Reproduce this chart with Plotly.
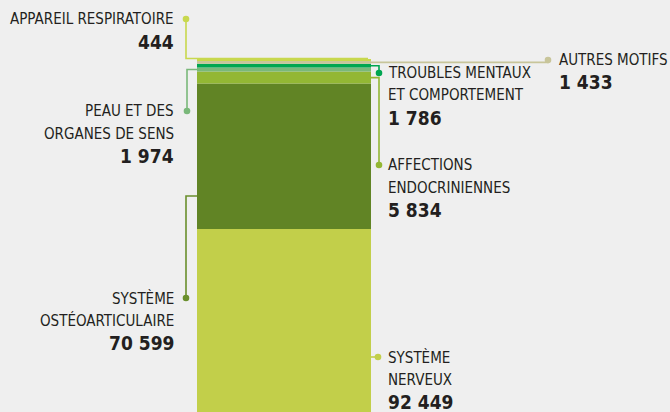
import plotly.graph_objects as go

# ---- data ----
categories = ["SYSTÈME NERVEUX", "SYSTÈME OSTÉOARTICULAIRE", "AFFECTIONS ENDOCRINIENNES",
              "PEAU ET DES ORGANES DE SENS", "TROUBLES MENTAUX ET COMPORTEMENT",
              "AUTRES MOTIFS", "APPAREIL RESPIRATOIRE"]
values = [92449, 70599, 5834, 1974, 1786, 1433, 444]
label_lines = [["SYSTÈME", "NERVEUX"], ["SYSTÈME", "OSTÉOARTICULAIRE"],
               ["AFFECTIONS", "ENDOCRINIENNES"], ["PEAU ET DES", "ORGANES DE SENS"],
               ["TROUBLES MENTAUX", "ET COMPORTEMENT"], ["AUTRES MOTIFS"],
               ["APPAREIL RESPIRATOIRE"]]

# ---- styles ----
colors = ["#c2cf4a", "#618425", "#93b734", "#7ab87a", "#00a651", "#c8c59a", "#c8d84e"]
line_colors = ["#c2cf4a", "#6a8f2c", "#93b734", "#7ab87a", "#00a651", "#c8c59a", "#c8d84e"]
W, H = 670, 412
BAR_X, BAR_W = 284, 174
K = 2.06 / 1000          # px per unit
BASE = 419.5             # pixel row of value 0
FONT = "DejaVu Sans Condensed, Liberation Sans Narrow, Arial Narrow, sans-serif"
TXT = "#231f20"

# label layout: side, dot x, dot y (pixels), attach mode
layout_cfg = [
    dict(side="right", dx=378, dy=357, attach=("px", 357)),
    dict(side="left", dx=186, dy=298, attach=("px", 196)),
    dict(side="right", dx=379, dy=165, attach=("mid", None)),
    dict(side="left", dx=187, dy=111, attach=("mid", None)),
    dict(side="right", dx=379, dy=73, attach=("mid", None)),
    dict(side="right", dx=548, dy=60, attach=("mid", None), tx=557),
    dict(side="left", dx=186, dy=19, attach=("top", None)),
]

def v2py(v):
    return BASE - v * K

def py2v(py):
    return (BASE - py) / K

fig = go.Figure()
bottom = 0
bounds = []
for cat, v, c in zip(categories, values, colors):
    fig.add_trace(go.Bar(x=[BAR_X], y=[v], base=[bottom], width=[BAR_W], marker=dict(color=c, line=dict(width=0)),
                         name=cat, showlegend=False, hoverinfo="skip"))
    bounds.append((bottom, bottom + v))
    bottom += v

shapes = []
annotations = []
left_edge = BAR_X - BAR_W / 2
right_edge = BAR_X + BAR_W / 2
for i, cfg in enumerate(layout_cfg):
    lo, hi = bounds[i]
    mode, val = cfg["attach"]
    if mode == "mid":
        ay = v2py((lo + hi) / 2)
    elif mode == "top":
        ay = v2py(hi) - 1.5
    else:
        ay = val
    dx, dy = cfg["dx"], cfg["dy"]
    lc = line_colors[i]
    if mode == "top":
        path = f"M {dx},{py2v(dy)} L {dx},{py2v(ay)} L {right_edge - 3},{py2v(ay)}"
    else:
        edge = right_edge if cfg["side"] == "right" else left_edge
        path = f"M {edge},{py2v(ay)} L {dx},{py2v(ay)} L {dx},{py2v(dy)}"
    shapes.append(dict(type="path", path=path, xref="x", yref="y",
                       line=dict(color=lc, width=1.6), layer="above"))
    r = 3.3
    shapes.append(dict(type="circle", xref="x", yref="y", x0=dx - r, x1=dx + r,
                       y0=py2v(dy + r), y1=py2v(dy - r), fillcolor=lc,
                       line=dict(width=0), layer="above"))
    if cfg["side"] == "left":
        tx, anchor = 176, "right"
    else:
        tx, anchor = cfg.get("tx", 386), "left"
    y = dy
    for ln in label_lines[i]:
        annotations.append(dict(x=tx / W, y=1 - y / H, xref="paper", yref="paper", text=ln,
                                showarrow=False, xanchor=anchor, yanchor="middle",
                                font=dict(family=FONT, size=15, color=TXT)))
        y += 22.5
    annotations.append(dict(x=tx / W, y=1 - y / H, xref="paper", yref="paper",
                            text=f"<b>{values[i]:,}</b>".replace(",", " "),
                            showarrow=False, xanchor=anchor, yanchor="middle",
                            font=dict(family=FONT, size=19, color=TXT)))

fig.update_layout(
    width=W, height=H, margin=dict(l=0, r=0, t=0, b=0),
    paper_bgcolor="#efefef", plot_bgcolor="#efefef",
    barmode="overlay",
    xaxis=dict(range=[0, W], visible=False, fixedrange=True),
    yaxis=dict(range=[py2v(H), py2v(0)], visible=False, fixedrange=True),
    shapes=shapes, annotations=annotations,
)
fig.write_html("out.html", config={"displayModeBar": False},
               post_script="document.body.style.margin='0';document.body.style.overflow='hidden';")
